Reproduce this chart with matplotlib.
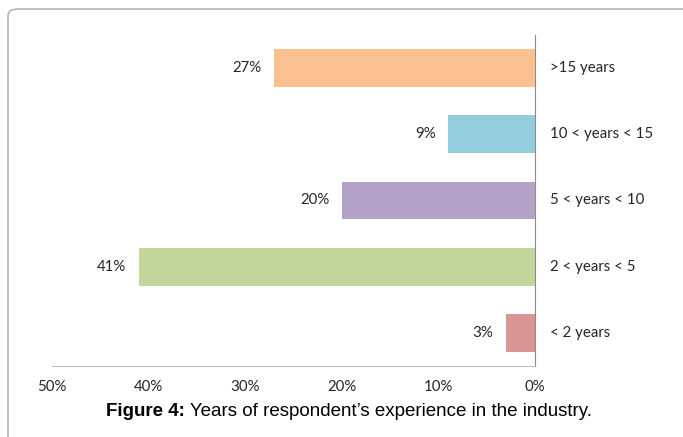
import matplotlib.pyplot as plt
from matplotlib.patches import FancyBboxPatch

# dados
categorias = ['< 2 years', '2 < years < 5', '5 < years < 10', '10 < years < 15', '>15 years']
valores = [3, 41, 20, 9, 27]
cores = ['#D99694', '#C3D69B', '#B3A2C7', '#93CDDD', '#FAC090']
ticks_x = [50, 40, 30, 20, 10, 0]

fonte = ['Lato', 'DejaVu Sans']

fig = plt.figure(figsize=(6.83, 4.37), dpi=100)

# moldura arredondada
moldura = FancyBboxPatch((8 / 683, -0.2), 1.2, 1.2 - 9 / 437,
                         boxstyle='round,pad=0,rounding_size=0.015',
                         transform=fig.transFigure, facecolor='none',
                         edgecolor='#A6A6A6', linewidth=1.0)
fig.patches.append(moldura)

ax = fig.add_axes([52 / 683, 1 - 366 / 437, (535 - 52) / 683, (366 - 35) / 437])

y = range(len(categorias))
ax.barh(y, valores, height=0.57, color=cores)

ax.set_xlim(50, 0)
ax.set_ylim(-0.5, 4.5)

# rótulos dos valores
for i, v in enumerate(valores):
    ax.annotate(f'{v}%', xy=(v, i), xytext=(-9, 0), textcoords='offset points',
                ha='right', va='center', fontsize=10.8, family=fonte, color='#262626')

# rótulos das categorias
for i, c in enumerate(categorias):
    ax.annotate(c, xy=(0, i), xytext=(11, 0), textcoords='offset points',
                ha='left', va='center', fontsize=10.8, family=fonte, color='#262626',
                annotation_clip=False)

ax.set_xticks(ticks_x)
ax.set_xticklabels([f'{t}%' for t in ticks_x], family=fonte, fontsize=10.8, color='#262626')
ax.tick_params(axis='x', length=0, pad=10)
ax.set_yticks([])

for lado in ['top', 'left']:
    ax.spines[lado].set_visible(False)
ax.spines['right'].set_color('#8C8C8C')
ax.spines['bottom'].set_color('#BFBFBF')

# legenda da figura
t1 = fig.text(106 / 683, 1 - 412 / 437, 'Figure 4:', fontweight='bold', fontsize=13.5,
              family='Liberation Sans', va='center', ha='left')
ax.annotate(' Years of respondent\u2019s experience in the industry.', xy=(1, 0.5),
            xycoords=t1, va='center', ha='left', fontsize=13.5, family='Liberation Sans')

fig.savefig('out.png', dpi=100)
